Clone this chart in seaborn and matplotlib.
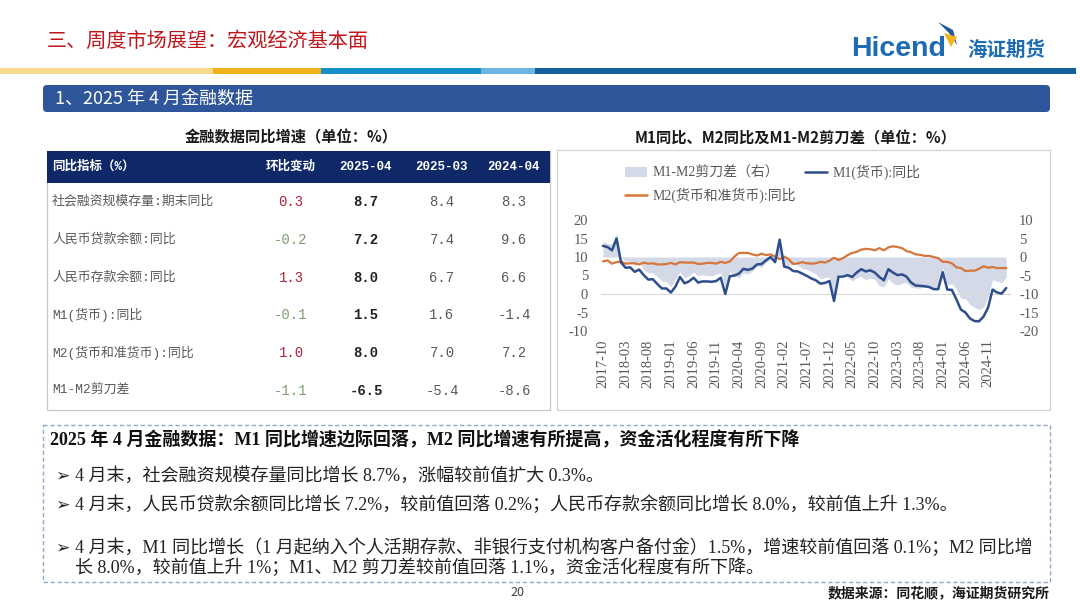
import numpy as np
import pandas as pd
import matplotlib
matplotlib.use('Agg')
import matplotlib.pyplot as plt
import seaborn as sns
from matplotlib.patches import Rectangle, FancyBboxPatch, Polygon, Patch
from matplotlib.lines import Line2D

# 月度数据 2017-10 ~ 2025-03
months = pd.date_range('2017-10-01', '2025-03-01', freq='MS')
m1 = [13.0, 12.7, 11.8,
      15.0, 8.5, 7.1, 7.2, 6.0, 6.6, 5.1, 3.9, 4.0, 2.7, 1.5, 1.5,
      0.4, 2.0, 4.6, 2.9, 3.4, 4.4, 3.1, 3.4, 3.4, 3.3, 3.5, 4.4,
      0.0, 4.8, 5.0, 5.5, 6.8, 6.5, 6.9, 8.0, 8.1, 9.1, 10.0, 8.6,
      14.7, 7.4, 7.1, 6.2, 6.1, 5.5, 4.9, 4.2, 3.7, 2.8, 3.0, 3.5,
      -1.9, 4.7, 4.7, 5.1, 4.6, 5.8, 6.7, 6.1, 6.4, 5.8, 4.6, 3.7,
      6.7, 5.8, 5.1, 5.3, 4.7, 3.1, 2.3, 2.2, 2.1, 1.9, 1.3, 1.3,
      5.9, 1.2, 1.1, -1.4, -4.2, -5.0, -6.6, -7.3, -7.4, -6.1, -3.7, 1.2,
      0.4, 0.1, 1.6]
m2 = [8.8, 9.1, 8.2,
      8.6, 8.8, 8.2, 8.3, 8.3, 8.0, 8.5, 8.2, 8.3, 8.0, 8.0, 8.1,
      8.4, 8.0, 8.6, 8.5, 8.5, 8.5, 8.1, 8.2, 8.4, 8.4, 8.2, 8.7,
      8.4, 8.8, 10.1, 11.1, 11.1, 11.1, 10.7, 10.4, 10.9, 10.5, 10.7, 10.1,
      9.4, 10.1, 9.4, 8.1, 8.3, 8.6, 8.3, 8.2, 8.3, 8.7, 8.5, 9.0,
      9.8, 9.2, 9.7, 10.5, 11.1, 11.4, 12.0, 12.2, 12.1, 11.8, 12.4, 11.8,
      12.6, 12.9, 12.7, 12.4, 11.6, 11.3, 10.7, 10.6, 10.3, 10.3, 10.0, 9.7,
      8.7, 8.7, 8.3, 7.2, 7.0, 6.2, 6.3, 6.3, 6.8, 7.5, 7.1, 7.3,
      7.0, 7.0, 7.0]

# 表格数据
col_names = ['同比指标（%）', '环比变动', '2025-04', '2025-03', '2024-04']
indicators = ['社会融资规模存量:期末同比', '人民币贷款余额:同比', '人民币存款余额:同比',
              'M1(货币):同比', 'M2(货币和准货币):同比', 'M1-M2剪刀差']
mom = [0.3, -0.2, 1.3, -0.1, 1.0, -1.1]
v_2504 = [8.7, 7.2, 8.0, 1.5, 8.0, -6.5]
v_2503 = [8.4, 7.4, 6.7, 1.6, 7.0, -5.4]
v_2404 = [8.3, 9.6, 6.6, -1.4, 7.2, -8.6]

title = '三、周度市场展望：宏观经济基本面'
section = '1、2025 年 4 月金融数据'
heading = '2025 年 4 月金融数据：M1 同比增速边际回落，M2 同比增速有所提高，资金活化程度有所下降'
bullets = ['4 月末，社会融资规模存量同比增长 8.7%，涨幅较前值扩大 0.3%。',
           '4 月末，人民币贷款余额同比增长 7.2%，较前值回落 0.2%；人民币存款余额同比增长 8.0%，较前值上升 1.3%。',
           '4 月末，M1 同比增长（1 月起纳入个人活期存款、非银行支付机构客户备付金）1.5%，增速较前值回落 0.1%；M2 同比增']
bullet3_cont = '长 8.0%，较前值上升 1%；M1、M2 剪刀差较前值回落 1.1%，资金活化程度有所下降。'

sns.set_theme(style='white')
plt.rcParams['font.family'] = ['Noto Sans CJK SC', 'DejaVu Sans']
plt.rcParams['axes.unicode_minus'] = False
SERIF = ['Liberation Serif', 'Noto Sans CJK SC', 'DejaVu Sans']
MONO = ['Liberation Mono', 'Noto Sans CJK SC', 'DejaVu Sans']
GRAY = '#595959'

W, H = 1080, 608
fig = plt.figure(figsize=(W / 100, H / 100), dpi=100)

# 背景层（像素坐标）
bg = fig.add_axes([0, 0, 1, 1])
bg.set_xlim(0, W)
bg.set_ylim(H, 0)
bg.axis('off')

bg.text(47, 41, title, color='#C0151B', fontsize=14.5, va='center')

# logo
bg.text(851, 49, 'Hicend', color='#1D6BB5', fontsize=20.5, fontweight='bold',
        family='Liberation Sans', va='center')
bg.add_patch(Polygon([(938, 22), (953, 30), (957, 45), (949, 33)], closed=True, fc='#1D5A9E', ec='none'))
bg.add_patch(Polygon([(944, 33), (957, 37), (951, 47)], closed=True, fc='#F2B31B', ec='none'))
bg.text(967, 50, '海证期货', color='#1D6BB5', fontsize=14, fontweight='bold', va='center')

# 彩条
stripe = [(0, 213, '#F7D98C'), (213, 321, '#EFB11C'), (321, 481, '#1590C8'),
          (481, 535, '#6DB4E2'), (535, 1076, '#11609B')]
for x0, x1, c in stripe:
    bg.add_patch(Rectangle((x0, 68), x1 - x0, 6, fc=c, ec='none'))

bg.add_patch(FancyBboxPatch((43, 85), 1007, 27, boxstyle='round,pad=0,rounding_size=4',
                            fc='#2F559A', ec='none'))
bg.text(55, 99, section, color='white', fontsize=13, va='center')

# 表格
bg.text(291, 137, '金融数据同比增速（单位：%）', fontsize=11, fontweight='bold',
        ha='center', va='center', color='#1a1a1a')
tx0, tx1, ty0, hh, rh = 47, 550, 151, 32, 37.8
bg.add_patch(Rectangle((tx0, ty0), tx1 - tx0, hh + rh * len(indicators), fill=False,
                       ec='#C8C8C8', lw=0.9))
bg.add_patch(Rectangle((tx0, ty0), tx1 - tx0, hh, fc='#0E2868', ec='none'))
col_x = [52, 291, 366, 442, 514]
for j, name in enumerate(col_names):
    bg.text(col_x[j], ty0 + hh / 2, name, color='white', fontsize=9, fontweight='bold',
            ha='left' if j == 0 else 'center', va='center', family=MONO)
for i, lab in enumerate(indicators):
    y = ty0 + hh + (i + 0.5) * rh
    bg.text(col_x[0], y, lab, color=GRAY, fontsize=9.3, ha='left', va='center', family=MONO)
    c = '#B02238' if mom[i] > 0 else '#7F9C72'
    bg.text(col_x[1], y, f'{mom[i]:.1f}', color=c, fontsize=10, ha='center', va='center', family=MONO)
    bg.text(col_x[2], y, f'{v_2504[i]:.1f}', color='#222222', fontsize=10, fontweight='bold',
            ha='center', va='center', family=MONO)
    bg.text(col_x[3], y, f'{v_2503[i]:.1f}', color=GRAY, fontsize=10, ha='center', va='center', family=MONO)
    bg.text(col_x[4], y, f'{v_2404[i]:.1f}', color=GRAY, fontsize=10, ha='center', va='center', family=MONO)

# 右侧图框
bg.text(796, 138, 'M1同比、M2同比及M1-M2剪刀差（单位：%）', fontsize=11, fontweight='bold',
        ha='center', va='center', color='#1a1a1a')
bg.add_patch(Rectangle((557, 150), 493, 260, fill=False, ec='#D3D3D3', lw=0.9))

# 文字框
bg.add_patch(Rectangle((43, 425), 1007, 157, fill=False, ec='#8FA7C9', lw=1.0, ls=(0, (3, 2))))
bg.text(50, 440, heading, fontsize=13, fontweight='bold', va='center', family=SERIF, color='#111111')
for y, b in zip([476, 505, 548], bullets):
    bg.text(55, y, '➢', fontsize=12.5, va='center', family='DejaVu Sans', color='#222222')
    bg.text(75, y, b, fontsize=13, va='center', family=SERIF, color='#222222')
bg.text(75, 568, bullet3_cont, fontsize=13, va='center', family=SERIF, color='#222222')

bg.text(517, 592, '20', fontsize=9, ha='center', va='center', color='#404040')
bg.text(1050, 593, '数据来源：同花顺，海证期货研究所', fontsize=10, fontweight='bold',
        ha='right', va='center', color='#1a1a1a')

# 折线图
df = pd.DataFrame({'idx': np.arange(len(months)), 'M1': m1, 'M2': m2})
df['gap'] = df['M1'] - df['M2']

ax = fig.add_axes([600.7 / W, 1 - 331 / H, 410 / W, 111 / H])
ax2 = ax.twinx()
ax2.fill_between(df['idx'], 0, df['gap'], color='#D3D9E7', lw=0)
ax.axhline(0, color='#DADADA', lw=0.8, zorder=0)
sns.lineplot(data=df, x='idx', y='M2', ax=ax, color='#D6763A', lw=1.6)
sns.lineplot(data=df, x='idx', y='M1', ax=ax, color='#2F4E8C', lw=1.8)
ax.set_zorder(ax2.get_zorder() + 1)
ax.patch.set_visible(False)

ax.set_xlim(-0.5, 90)
ax.set_ylim(-10, 20)
ax2.set_ylim(-20, 10)
ax.set_yticks(np.arange(-10, 21, 5))
ax2.set_yticks(np.arange(-20, 11, 5))
ax.set_xticks(df['idx'][::5])
ax.set_xticklabels(months[::5].strftime('%Y-%m'), rotation=90)
ax.set_xlabel('')
ax.set_ylabel('')
for a in (ax, ax2):
    for s in a.spines.values():
        s.set_visible(False)
    a.tick_params(length=0, labelsize=10.5, colors=GRAY)
ax.tick_params(axis='y', pad=9)
ax.tick_params(axis='x', pad=6)
ax2.tick_params(axis='y', pad=6)
for lbl in ax.get_xticklabels() + ax.get_yticklabels() + ax2.get_yticklabels():
    lbl.set_fontfamily('Liberation Serif')

handles = [Patch(fc='#D3D9E7', ec='none'),
           Line2D([], [], color='#D6763A', lw=1.8),
           Line2D([], [], color='#2F4E8C', lw=1.8)]
labels = ['M1-M2剪刀差（右）', 'M2(货币和准货币):同比', 'M1(货币):同比']
fig.legend(handles, labels, loc='upper left', bbox_to_anchor=(625 / W, 1 - 165 / H),
           ncol=2, frameon=False, borderpad=0, borderaxespad=0, handlelength=1.6,
           handletextpad=0.4, columnspacing=0.6, labelspacing=0.55,
           prop={'family': SERIF, 'size': 10}, labelcolor=GRAY)

fig.savefig('out.png', dpi=100)
